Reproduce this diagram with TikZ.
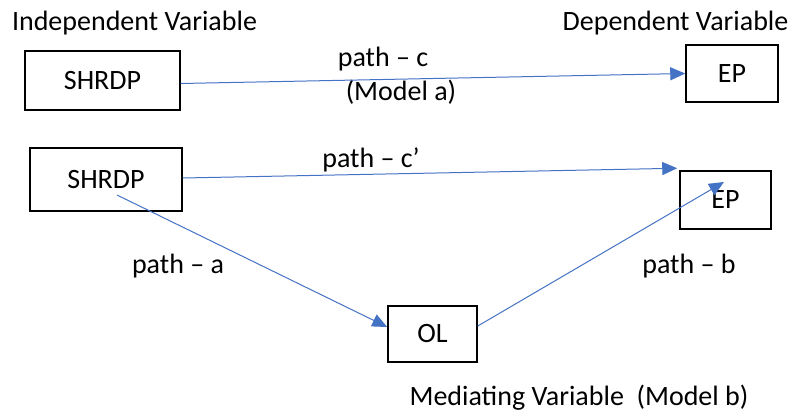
\documentclass[tikz,border=0pt]{standalone}
\usepackage{fontspec}
\setmainfont{Carlito}
\usetikzlibrary{arrows.meta}
\definecolor{lineblue}{HTML}{4472C4}
\tikzset{
  varbox/.style={draw=black, line width=1.5pt, inner sep=0pt, font=\fontsize{28}{32}\selectfont},
  lbl/.style={inner sep=0pt, font=\fontsize{28}{32}\selectfont},
  conn/.style={draw=lineblue, line width=1pt, -{Triangle[length=15pt,width=13pt]}},
}
\begin{document}
\begin{tikzpicture}[x=1pt,y=-1pt]
\useasboundingbox (0,0) rectangle (792,412);
% Model a
\node[lbl] (iv) at (134.5,23) {Independent Variable};
\node[lbl] (dv) at (675.5,23) {Dependent Variable};
\node[varbox, minimum width=155pt, minimum height=59pt] (s1) at (102.5,80.5) {SHRDP};
\node[varbox, minimum width=92pt, minimum height=57pt] (e1) at (732,73.5) {EP};
\node[lbl] (pc) at (383,59) {path -- c};
\node[lbl] (ma) at (401,92) {(Model a)};
\draw[conn] ([yshift=-3pt]s1.east) -- (e1.west);
% Model b
\node[varbox, minimum width=152pt, minimum height=63pt] (s2) at (106,179.5) {SHRDP};
\node[varbox, minimum width=91pt, minimum height=58pt] (e2) at (725.5,200) {EP};
\node[varbox, minimum width=89pt, minimum height=56pt] (ol) at (432.5,334) {OL};
\node[lbl] (pc2) at (371,160) {path -- c’};
\node[lbl] (pa) at (178,266) {path -- a};
\node[lbl] (pb) at (689,266) {path -- b};
\node[lbl] (mv) at (579,398) {Mediating Variable\ \ (Model b)};
\coordinate (c2end) at ([xshift=-2pt,yshift=2pt]e2.north west);
\coordinate (aStart) at ([xshift=11pt,yshift=-15.5pt]s2.center);
\coordinate (bEnd) at ([xshift=-1.5pt,yshift=18pt]e2.center);
\draw[conn] ([yshift=1.5pt]s2.east) -- (c2end);
\draw[conn] (aStart) -- ([yshift=7pt]ol.west);
\draw[conn] ([yshift=8pt]ol.east) -- (bEnd);
\end{tikzpicture}
\end{document}
